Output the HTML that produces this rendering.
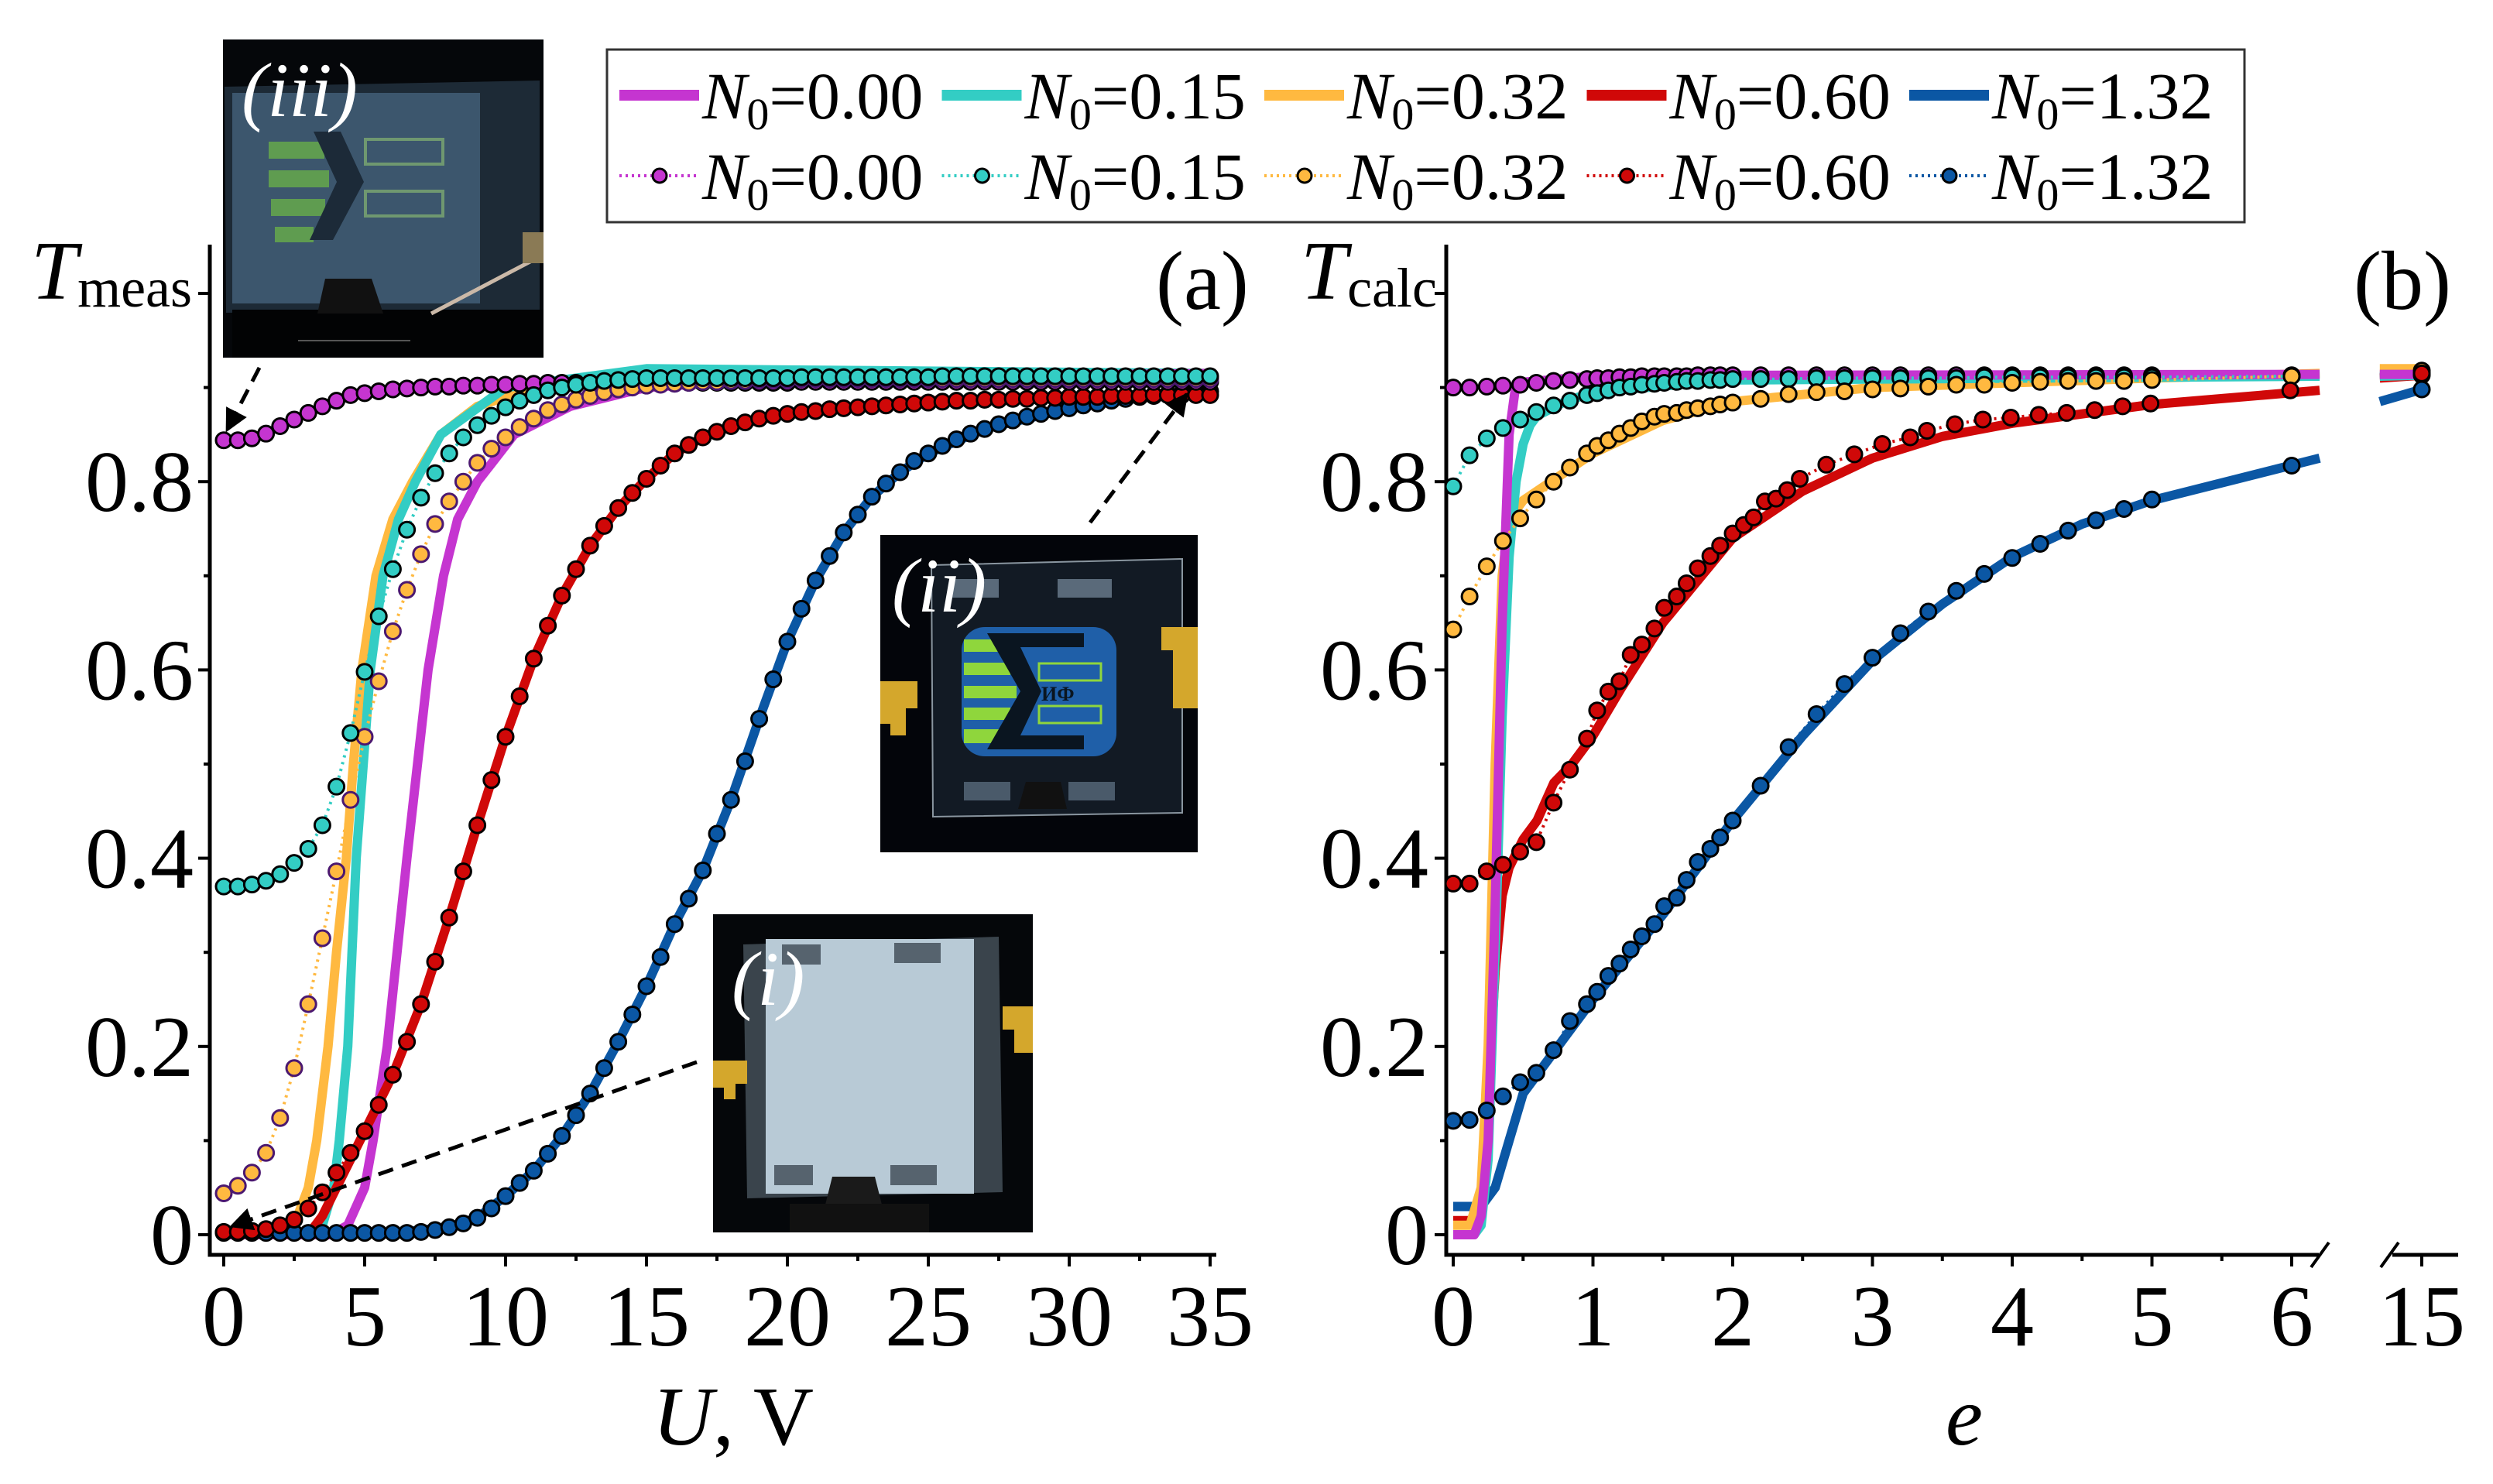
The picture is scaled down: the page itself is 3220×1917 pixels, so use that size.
<!DOCTYPE html>
<html><head><meta charset="utf-8"><style>
html,body{margin:0;padding:0;background:#fff}
svg{display:block}
text{font-family:"Liberation Serif",serif}
</style></head><body>
<svg id="chart" width="3220" height="1917" viewBox="0 0 3220 1917" xmlns="http://www.w3.org/2000/svg">
<rect width="3220" height="1917" fill="#fff"/>
<g id="axesA"></g>
<g id="axesB"></g>
<g id="plotA"></g>
<g id="plotB"></g>

<!-- inset iii -->
<g>
<rect x="288" y="51" width="414" height="411" fill="#05070a"/>
<polygon points="290,112 697,104 697,400 292,404" fill="#1d2a36"/>
<rect x="300" y="120" width="320" height="272" fill="#3c566d"/>
<g fill="#5f9c50">
<rect x="347" y="183" width="72" height="22"/><rect x="347" y="220" width="78" height="22"/><rect x="350" y="257" width="70" height="22"/><rect x="355" y="293" width="50" height="20"/>
</g>
<polygon points="405,170 440,170 470,235 430,310 400,310 435,235" fill="#1c2a38"/>
<rect x="472" y="180" width="100" height="32" fill="none" stroke="#6f9870" stroke-width="4"/>
<rect x="472" y="247" width="100" height="32" fill="none" stroke="#6f9870" stroke-width="4"/>
<rect x="300" y="400" width="402" height="62" fill="#020304"/>
<path d="M410,405 L420,360 L480,360 L495,405 Z" fill="#111"/>
<line x1="700" y1="330" x2="557" y2="405" stroke="#cbb9a8" stroke-width="5"/>
<rect x="675" y="300" width="27" height="40" fill="#8a7a55"/>
<line x1="385" y1="440" x2="530" y2="440" stroke="#555" stroke-width="2"/>
<text x="312" y="150" font-size="100" font-style="italic" fill="#fff">(iii)</text>
</g>
<!-- inset ii -->
<g>
<rect x="1137" y="691" width="410" height="410" fill="#03050a"/>
<polygon points="1203,730 1527,722 1527,1050 1205,1055" fill="#121a24" stroke="#8a96a0" stroke-width="2"/>
<rect x="1242" y="810" width="200" height="167" rx="30" fill="#1f5fa8"/>
<g fill="#8fd63c">
<rect x="1245" y="826" width="50" height="16"/><rect x="1245" y="856" width="60" height="16"/><rect x="1245" y="886" width="68" height="16"/><rect x="1245" y="914" width="60" height="16"/><rect x="1245" y="942" width="45" height="18"/>
</g>
<polygon points="1275,818 1400,818 1400,836 1318,836 1345,893 1318,950 1400,950 1400,968 1275,968 1318,893" fill="#0a1520"/>
<rect x="1342" y="857" width="80" height="22" fill="none" stroke="#8fd63c" stroke-width="3"/>
<rect x="1342" y="912" width="80" height="22" fill="none" stroke="#8fd63c" stroke-width="3"/>
<text x="1345" y="905" font-size="26" font-family="Liberation Sans,sans-serif" font-weight="bold" fill="#0a1520">ИФ</text>
<rect x="1366" y="748" width="70" height="24" fill="#5a6a7a"/><rect x="1230" y="748" width="60" height="24" fill="#5a6a7a"/>
<rect x="1245" y="1010" width="60" height="24" fill="#4a5a6a"/><rect x="1380" y="1010" width="60" height="24" fill="#4a5a6a"/>
<path d="M1315,1045 L1325,1010 L1370,1010 L1378,1045 Z" fill="#111"/>
<path d="M1137,880 L1185,880 L1185,915 L1170,915 L1170,950 L1150,950 L1150,935 L1137,935 Z" fill="#d4a72c"/>
<path d="M1547,810 L1500,810 L1500,840 L1515,840 L1515,915 L1547,915 Z" fill="#d4a72c"/>
<text x="1152" y="790" font-size="100" font-style="italic" fill="#fff">(ii)</text>
</g>
<!-- inset i -->
<g>
<rect x="921" y="1181" width="413" height="411" fill="#05070a"/>
<polygon points="960,1220 1290,1210 1295,1540 965,1548" fill="#3a444c"/>
<rect x="989" y="1213" width="269" height="329" fill="#b8cad6"/>
<rect x="1010" y="1220" width="50" height="26" fill="#56636e"/><rect x="1155" y="1218" width="60" height="26" fill="#56636e"/>
<rect x="1000" y="1505" width="50" height="26" fill="#56636e"/><rect x="1150" y="1505" width="60" height="26" fill="#56636e"/>
<path d="M1065,1560 L1075,1520 L1130,1520 L1140,1560 Z" fill="#1a1a1a"/>
<rect x="1020" y="1555" width="180" height="37" fill="#111"/>
<path d="M921,1370 L965,1370 L965,1400 L950,1400 L950,1420 L935,1420 L935,1405 L921,1405 Z" fill="#d4a72c"/>
<path d="M1334,1300 L1295,1300 L1295,1330 L1310,1330 L1310,1360 L1334,1360 Z" fill="#d4a72c"/>
<text x="945" y="1298" font-size="100" font-style="italic" fill="#fff">(i)</text>
</g>

<!-- arrows -->
<defs><marker id="ah" viewBox="0 0 10 10" refX="9" refY="5" markerWidth="6" markerHeight="6" orient="auto"><path d="M0,0 L10,5 L0,10 Z" fill="#000"/></marker></defs>
<line x1="335" y1="475" x2="293" y2="556" stroke="#000" stroke-width="5" stroke-dasharray="20,12" marker-end="url(#ah)"/>
<line x1="1408" y1="675" x2="1533" y2="509" stroke="#000" stroke-width="5" stroke-dasharray="20,12" marker-end="url(#ah)"/>
<line x1="900" y1="1372" x2="299" y2="1584" stroke="#000" stroke-width="5" stroke-dasharray="20,12" marker-end="url(#ah)"/>

<g id="legend">
<rect x="784" y="64" width="2115" height="223" fill="#fff" stroke="#333" stroke-width="3"/>
</g>

<!-- titles -->
<text x="40" y="386" font-size="108" font-style="italic">T<tspan font-size="72" font-style="normal" dy="10">meas</tspan></text>
<text x="1493" y="399" font-size="108">(a)</text>
<text x="1680" y="386" font-size="108" font-style="italic">T<tspan font-size="72" font-style="normal" dy="10">calc</tspan></text>
<text x="3040" y="399" font-size="108">(b)</text>
<text x="947" y="1866" font-size="108" text-anchor="middle"><tspan font-style="italic">U</tspan>, V</text>
<text x="2537" y="1866" font-size="108" text-anchor="middle" font-style="italic">e</text>
</svg>
<script>
// ---------- Panel (a) data ----------
const uGrid = [0,0.5,1,1.5,2,2.5,3,3.5,4,4.5,5,5.5,6,6.5,7,7.5,8,8.5,9,9.5,10,10.5,11,11.5,12,12.5,13,13.5,14,14.5,15,15.5,16,16.5,17,17.5,18,18.5,19,19.5,20,20.5,21,21.5,22,22.5,23,23.5,24,24.5,25,25.5,26,26.5,27,27.5,28,28.5,29,29.5,30,30.5,31,31.5,32,32.5,33,33.5,34,34.5,35];
const measA_000 = [0.844,0.844,0.846,0.851,0.859,0.866,0.873,0.880,0.886,0.892,0.894,0.896,0.898,0.899,0.900,0.901,0.901,0.902,0.902,0.903,0.903,0.904,0.904,0.905,0.905,0.905,0.905,0.905,0.905,0.905,0.905,0.905,0.905,0.905,0.905,0.905,0.905,0.905,0.905,0.905,0.905,0.906,0.906,0.906,0.906,0.906,0.906,0.906,0.906,0.906,0.906,0.906,0.906,0.906,0.906,0.906,0.906,0.906,0.906,0.906,0.906,0.906,0.906,0.906,0.906,0.906,0.906,0.906,0.906,0.906,0.906];
const measA_015 = [0.370,0.370,0.372,0.376,0.383,0.395,0.410,0.435,0.476,0.533,0.598,0.657,0.707,0.749,0.783,0.809,0.830,0.847,0.860,0.870,0.879,0.886,0.892,0.897,0.900,0.903,0.905,0.907,0.908,0.909,0.910,0.910,0.910,0.910,0.910,0.910,0.910,0.910,0.910,0.910,0.910,0.911,0.911,0.911,0.911,0.911,0.911,0.911,0.911,0.911,0.911,0.912,0.912,0.912,0.912,0.912,0.912,0.912,0.912,0.912,0.912,0.912,0.912,0.912,0.912,0.912,0.912,0.912,0.912,0.912,0.912];
const measA_032 = [0.044,0.052,0.066,0.087,0.124,0.177,0.245,0.315,0.386,0.462,0.529,0.588,0.641,0.685,0.723,0.755,0.779,0.800,0.820,0.835,0.847,0.858,0.867,0.876,0.882,0.887,0.891,0.895,0.898,0.900,0.902,0.903,0.904,0.905,0.906,0.906,0.907,0.907,0.908,0.908,0.908,0.909,0.909,0.909,0.909,0.909,0.909,0.909,0.909,0.909,0.909,0.909,0.909,0.909,0.909,0.909,0.909,0.909,0.909,0.909,0.909,0.909,0.909,0.909,0.909,0.909,0.909,0.909,0.909,0.909,0.909];
const measA_060 = [0.003,0.003,0.004,0.006,0.010,0.016,0.028,0.045,0.066,0.087,0.110,0.138,0.170,0.205,0.245,0.290,0.337,0.386,0.435,0.483,0.529,0.572,0.612,0.647,0.679,0.707,0.732,0.753,0.772,0.788,0.803,0.817,0.830,0.839,0.847,0.853,0.859,0.863,0.867,0.870,0.872,0.874,0.875,0.877,0.878,0.879,0.880,0.881,0.882,0.883,0.884,0.885,0.886,0.886,0.887,0.887,0.888,0.888,0.889,0.889,0.890,0.890,0.890,0.891,0.891,0.891,0.892,0.892,0.892,0.892,0.892];
const measA_132 = [0.002,0.002,0.002,0.002,0.002,0.002,0.002,0.002,0.002,0.002,0.002,0.002,0.002,0.002,0.003,0.005,0.008,0.012,0.018,0.028,0.041,0.055,0.068,0.086,0.105,0.127,0.150,0.177,0.205,0.234,0.264,0.295,0.330,0.357,0.387,0.426,0.462,0.503,0.548,0.590,0.630,0.665,0.695,0.721,0.746,0.765,0.784,0.798,0.810,0.822,0.830,0.838,0.845,0.851,0.856,0.861,0.865,0.869,0.872,0.875,0.878,0.881,0.883,0.886,0.888,0.890,0.891,0.893,0.894,0.895,0.896];
const lineA_032_U = [0,2,2.5,3,3.3,3.7,4.0,4.35,4.6,4.9,5.4,6,6.7,7.7,9,11,15,20,35];
const lineA_032_T = [0,0.002,0.01,0.05,0.1,0.2,0.3,0.4,0.5,0.6,0.7,0.76,0.8,0.85,0.88,0.9,0.912,0.915,0.915];
const lineA_015_U = [0,3,3.5,3.9,4.1,4.4,4.7,4.95,5.2,5.65,6.2,6.8,7.7,10,15,35];
const lineA_015_T = [0,0,0.01,0.05,0.1,0.2,0.4,0.5,0.6,0.7,0.76,0.8,0.85,0.9,0.92,0.915];
const lineA_000_U = [0,3.8,4.4,5,5.3,5.8,6.5,7.25,7.8,8.3,9.0,10.3,12.3,15,20,35];
const lineA_000_T = [0,0,0.01,0.05,0.1,0.2,0.4,0.6,0.7,0.76,0.8,0.85,0.88,0.9,0.91,0.915];
const lineA_060_U = [3,3.5,4,5,6,7,8,9,10,11,12,13,14,15,16,17,18,20,22,25,30,35];
const lineA_060_T = [0,0.02,0.05,0.11,0.17,0.245,0.337,0.435,0.529,0.612,0.679,0.732,0.772,0.803,0.830,0.847,0.859,0.872,0.879,0.886,0.890,0.892];
const lineA_132_U = [6,8,9,10,11,12,13,14,15,16,17,18,19,20,21,22,23,24,25,27,30,33,35];
const lineA_132_T = [0.002,0.008,0.018,0.041,0.068,0.105,0.150,0.205,0.264,0.330,0.387,0.462,0.548,0.630,0.695,0.746,0.784,0.810,0.830,0.856,0.878,0.891,0.896];
const xTicksA = [0,5,10,15,20,25,30,35];
const yTicks = [0,0.2,0.4,0.6,0.8];
const yTickLabels = ["0","0.2","0.4","0.6","0.8"];

// ---------- Panel (b) data ----------
const eGrid = [0,0.117,0.24,0.356,0.479,0.595,0.718,0.835,0.957,1.03,1.11,1.19,1.27,1.35,1.44,1.51,1.6,1.67,1.75,1.84,1.91,2.0,2.2,2.4,2.6,2.8,3.0,3.2,3.4,3.6,3.8,4.0,4.2,4.4,4.6,4.8,5.0,6,15];
const measB_000 = [0.900,0.900,0.901,0.902,0.903,0.905,0.907,0.908,0.909,0.910,0.910,0.911,0.911,0.912,0.912,0.912,0.912,0.912,0.913,0.913,0.913,0.913,0.913,0.913,0.913,0.913,0.913,0.913,0.913,0.913,0.913,0.913,0.913,0.913,0.913,0.913,0.913,0.913,0.915];
const measB_015 = [0.795,0.828,0.846,0.857,0.866,0.874,0.881,0.886,0.892,0.894,0.897,0.9,0.901,0.903,0.904,0.905,0.906,0.907,0.907,0.908,0.908,0.909,0.909,0.909,0.91,0.91,0.91,0.91,0.91,0.91,0.911,0.911,0.911,0.911,0.911,0.911,0.911,0.912,0.913];
const measB_032 = [0.643,0.678,0.71,0.737,0.761,0.781,0.8,0.815,0.83,0.838,0.844,0.851,0.857,0.864,0.869,0.872,0.873,0.876,0.878,0.88,0.882,0.884,0.888,0.893,0.895,0.896,0.898,0.899,0.901,0.903,0.903,0.905,0.906,0.907,0.907,0.907,0.908,0.912,0.918];
const measB_132 = [0.121,0.122,0.132,0.147,0.162,0.172,0.196,0.227,0.245,0.258,0.275,0.288,0.303,0.317,0.33,0.349,0.358,0.377,0.396,0.41,0.422,0.44,0.477,0.518,0.553,0.585,0.613,0.639,0.662,0.684,0.702,0.719,0.734,0.748,0.759,0.771,0.781,0.817,0.898];
const eGridRed = [0,0.117,0.24,0.356,0.479,0.595,0.718,0.835,0.957,1.03,1.11,1.19,1.27,1.35,1.44,1.51,1.6,1.67,1.75,1.84,1.91,2.0,2.08,2.15,2.23,2.31,2.39,2.48,2.67,2.87,3.07,3.27,3.39,3.59,3.79,3.99,4.19,4.39,4.59,4.79,4.99,5.99,15];
const measB_060 = [0.373,0.373,0.386,0.393,0.407,0.417,0.459,0.494,0.527,0.557,0.577,0.588,0.616,0.627,0.644,0.666,0.678,0.692,0.708,0.721,0.732,0.745,0.754,0.762,0.779,0.782,0.791,0.803,0.818,0.829,0.84,0.847,0.854,0.861,0.866,0.868,0.871,0.873,0.876,0.88,0.883,0.897,0.915];
const lineB_000_E = [0,0.15,0.2,0.25,0.3,0.35,0.4,0.45,1,2,6.2,14.7,15];
const lineB_000_T = [0,0,0.02,0.1,0.35,0.65,0.85,0.905,0.912,0.913,0.914,0.914,0.914];
const lineB_015_E = [0,0.15,0.2,0.25,0.3,0.35,0.4,0.45,0.5,0.55,0.6,0.8,1,2,6.2,14.7,15];
const lineB_015_T = [0,0,0.01,0.08,0.3,0.55,0.72,0.8,0.84,0.86,0.87,0.885,0.895,0.908,0.912,0.912,0.913];
const lineB_032_E = [0,0.12,0.2,0.25,0.3,0.35,0.4,0.5,0.6,0.8,1,1.5,2,3,5,6.2,14.7,15];
const lineB_032_T = [0.01,0.01,0.05,0.2,0.5,0.7,0.76,0.78,0.79,0.81,0.83,0.865,0.885,0.9,0.91,0.915,0.92,0.92];
const lineB_060_E = [0,0.15,0.2,0.25,0.3,0.35,0.4,0.5,0.6,0.72,0.85,1,1.2,1.5,2,2.5,3,3.5,4,5,6.2,14.7,15];
const lineB_060_T = [0.015,0.015,0.04,0.15,0.28,0.36,0.39,0.42,0.44,0.48,0.5,0.53,0.58,0.65,0.74,0.79,0.825,0.848,0.862,0.882,0.897,0.91,0.913];
const lineB_132_E = [0,0.2,0.3,0.4,0.5,0.6,0.8,1,1.5,2,2.5,3,3.5,4,4.5,5,6.2,14.7,15];
const lineB_132_T = [0.03,0.03,0.05,0.1,0.15,0.17,0.21,0.25,0.34,0.44,0.53,0.61,0.67,0.72,0.755,0.78,0.825,0.885,0.898];
const xTicksB = [0,1,2,3,4,5,6,15];

const COL = {c000:"#c535d0", c015:"#33cdc4", c032:"#ffb940", c060:"#d00808", c132:"#0b57a4"};
const NS = "http://www.w3.org/2000/svg";
function mk(tag, attrs, parent){const e=document.createElementNS(NS,tag);for(const k in attrs)e.setAttribute(k,attrs[k]);parent.appendChild(e);return e;}

function xA(u){return 289 + u*36.4;}
function yT(t){return 1595 - t*1216;}
function xB(e){return e<=6.5 ? 1877 + e*180.5 : 3128 + (e-15)*180.5;}

// ---------- Axes A ----------
const axA = document.getElementById('axesA');
let el;
el = mk('path',{d:'M271,316 L271,1621 L1571,1621',fill:'none',stroke:'#000','stroke-width':5},axA);


for(let i=0;i<=10;i++){const t=i/10;const L=(i%2===0)?15:8;
  el=mk('line',{x1:271-L,x2:271,y1:yT(t),y2:yT(t),stroke:'#000','stroke-width':4},axA);
  
  }
for(let u=0;u<=35;u+=2.5){const L=(u%5===0)?15:8;
  el=mk('line',{x1:xA(u),x2:xA(u),y1:1621,y2:1621+L,stroke:'#000','stroke-width':4},axA);
  
  }
xTicksA.forEach(u=>{el=mk('text',{x:xA(u),y:1738,'font-size':112,'text-anchor':'middle'},axA);el.textContent=String(u);
  
  });
yTicks.forEach((t,i)=>{el=mk('text',{x:250,y:yT(t)+38,'font-size':112,'text-anchor':'end'},axA);el.textContent=yTickLabels[i];
  
  });

// ---------- Axes B ----------
const axB = document.getElementById('axesB');
el = mk('path',{d:'M1868,316 L1868,1621 L2995,1621 M3090,1621 L3175,1621',fill:'none',stroke:'#000','stroke-width':5},axB);


el = mk('path',{d:'M2985,1637 L3008,1605 M3075,1637 L3098,1605',fill:'none',stroke:'#000','stroke-width':4},axB);


for(let i=0;i<=10;i++){const t=i/10;const L=(i%2===0)?15:8;
  el=mk('line',{x1:1868-L,x2:1868,y1:yT(t),y2:yT(t),stroke:'#000','stroke-width':4},axB);
  
  }
for(let e=0;e<=6;e+=0.5){const L=(e%1===0)?15:8;
  el=mk('line',{x1:xB(e),x2:xB(e),y1:1621,y2:1621+L,stroke:'#000','stroke-width':4},axB);
  
  }
el=mk('line',{x1:xB(15),x2:xB(15),y1:1621,y2:1636,stroke:'#000','stroke-width':4},axB);


xTicksB.forEach(e=>{el=mk('text',{x:xB(e),y:1738,'font-size':112,'text-anchor':'middle'},axB);el.textContent=String(e);
  
  });
yTicks.forEach((t,i)=>{el=mk('text',{x:1845,y:yT(t)+38,'font-size':112,'text-anchor':'end'},axB);el.textContent=yTickLabels[i];
  
  });

// ---------- drawing helpers ----------
function pathFrom(xs, ts, xf){let d='';xs.forEach((x,i)=>{d+=(i?'L':'M')+xf(x).toFixed(1)+','+yT(ts[i]).toFixed(1);});return d;}
function splitDraw(xs, ts, xf, parent, attrs, name, brk){
  const segs=[[[],[]],[[],[]]];
  xs.forEach((x,i)=>{const s=(brk && x>6.5)?1:0;segs[s][0].push(x);segs[s][1].push(ts[i]);});
  segs.forEach(sg=>{if(sg[0].length>1){const p=mk('path',Object.assign({d:pathFrom(sg[0],sg[1],xf),fill:'none'},attrs),parent);
    
    }});
}
function drawLine(xs, ts, xf, parent, color, name, brk){
  splitDraw(xs, ts, xf, parent, {stroke:color,'stroke-width':12,'stroke-linejoin':'round','stroke-linecap':'butt'}, name, brk);
}
function drawMarkers(xs, ts, xf, parent, color, strokeCol, name, brk){
  splitDraw(xs, ts, xf, parent, {stroke:color,'stroke-width':4,'stroke-dasharray':'3,6'}, name+'-dotted', brk);
  xs.forEach((x,i)=>{const c=mk('circle',{cx:xf(x),cy:yT(ts[i]),r:10,fill:color,stroke:strokeCol,'stroke-width':3},parent);
    
    });
}

// ---------- Panel A plot ----------
const pA = document.getElementById('plotA');
drawLine(lineA_032_U,lineA_032_T,xA,pA,COL.c032,'line-a-n032',false);
drawLine(lineA_015_U,lineA_015_T,xA,pA,COL.c015,'line-a-n015',false);
drawLine(lineA_000_U,lineA_000_T,xA,pA,COL.c000,'line-a-n000',false);
drawLine(lineA_060_U,lineA_060_T,xA,pA,COL.c060,'line-a-n060',false);
drawLine(lineA_132_U,lineA_132_T,xA,pA,COL.c132,'line-a-n132',false);
drawMarkers(uGrid,measA_132,xA,pA,COL.c132,'#000','meas-a-n132',false);
drawMarkers(uGrid,measA_060,xA,pA,COL.c060,'#000','meas-a-n060',false);
drawMarkers(uGrid,measA_000,xA,pA,COL.c000,'#000','meas-a-n000',false);
drawMarkers(uGrid,measA_032,xA,pA,COL.c032,'#4b1870','meas-a-n032',false);
drawMarkers(uGrid,measA_015,xA,pA,COL.c015,'#000','meas-a-n015',false);

// ---------- Panel B plot ----------
const pB = document.getElementById('plotB');
drawLine(lineB_132_E,lineB_132_T,xB,pB,COL.c132,'line-b-n132',true);
drawLine(lineB_060_E,lineB_060_T,xB,pB,COL.c060,'line-b-n060',true);
drawLine(lineB_032_E,lineB_032_T,xB,pB,COL.c032,'line-b-n032',true);
drawLine(lineB_015_E,lineB_015_T,xB,pB,COL.c015,'line-b-n015',true);
drawLine(lineB_000_E,lineB_000_T,xB,pB,COL.c000,'line-b-n000',true);
drawMarkers(eGrid,measB_000,xB,pB,COL.c000,'#000','calc-b-n000',true);
drawMarkers(eGrid,measB_015,xB,pB,COL.c015,'#000','calc-b-n015',true);
drawMarkers(eGrid,measB_032,xB,pB,COL.c032,'#000','calc-b-n032',true);
drawMarkers(eGridRed,measB_060,xB,pB,COL.c060,'#000','calc-b-n060',true);
drawMarkers(eGrid,measB_132,xB,pB,COL.c132,'#000','calc-b-n132',true);

// ---------- Legend ----------
const legendLabels = ["0.00","0.15","0.32","0.60","1.32"];
const legendColors = [COL.c000,COL.c015,COL.c032,COL.c060,COL.c132];
const lg = document.getElementById('legend');
legendLabels.forEach((lab,i)=>{
  const x0 = 800 + i*416.5;
  let l = mk('line',{x1:x0,x2:x0+103,y1:123,y2:123,stroke:legendColors[i],'stroke-width':14},lg);
  
  
  let t = mk('text',{x:x0+107,y:153,'font-size':86},lg);
  t.innerHTML='<tspan font-style="italic">N</tspan><tspan font-size="58" dy="14">0</tspan><tspan dy="-14">='+lab+'</tspan>';
  
  
  let d = mk('line',{x1:x0,x2:x0+103,y1:227,y2:227,stroke:legendColors[i],'stroke-width':4,'stroke-dasharray':'3,5'},lg);
  
  
  let c = mk('circle',{cx:x0+52,cy:227,r:9,fill:legendColors[i],stroke:'#000','stroke-width':3},lg);
  
  
  let t2 = mk('text',{x:x0+107,y:257,'font-size':86},lg);
  t2.innerHTML='<tspan font-style="italic">N</tspan><tspan font-size="58" dy="14">0</tspan><tspan dy="-14">='+lab+'</tspan>';
  
  
});
</script>
</body></html>
